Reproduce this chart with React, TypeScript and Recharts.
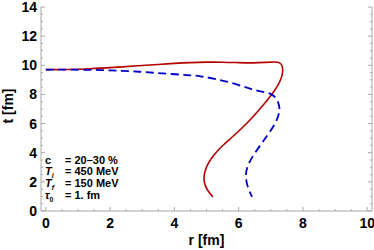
import { LineChart, Line, XAxis, YAxis } from 'recharts'

// freeze-out curves, r [fm] vs t [fm]
const redR = [0, 0.7, 1.35, 2.1, 2.9, 3.5, 4.0, 4.5, 5.0, 5.5, 6.0, 6.45, 6.85, 7.15, 7.3, 7.37, 7.38, 7.28, 7.07, 6.85, 6.63, 6.38, 6.1, 5.8, 5.5, 5.24, 5.05, 4.94, 4.91, 4.95, 5.05, 5.2]
const redT = [9.7, 9.71, 9.75, 9.85, 9.97, 10.06, 10.13, 10.19, 10.22, 10.22, 10.18, 10.15, 10.2, 10.24, 10.18, 9.95, 9.45, 8.8, 8.1, 7.5, 6.93, 6.3, 5.68, 5.07, 4.5, 3.9, 3.3, 2.7, 2.2, 1.75, 1.35, 0.97]
const blueR = [0, 0.8, 1.7, 2.4, 2.9, 3.4, 3.9, 4.4, 4.8, 5.3, 5.8, 6.35, 6.75, 7.0, 7.18, 7.26, 7.28, 7.22, 7.1, 6.9, 6.7, 6.48, 6.3, 6.22, 6.23, 6.3, 6.42]
const blueT = [9.7, 9.7, 9.68, 9.62, 9.56, 9.48, 9.4, 9.33, 9.27, 9.05, 8.8, 8.38, 8.17, 8.08, 7.75, 7.3, 6.9, 6.4, 5.85, 5.2, 4.6, 3.9, 3.25, 2.65, 2.1, 1.5, 0.97]

const rMajor = [0, 2, 4, 6, 8, 10]
const rTicks = [0, 0.5, 1, 1.5, 2, 2.5, 3, 3.5, 4, 4.5, 5, 5.5, 6, 6.5, 7, 7.5, 8, 8.5, 9, 9.5, 10]
const tMajor = [0, 2, 4, 6, 8, 10, 12, 14]
const tTicks = [0, 0.5, 1, 1.5, 2, 2.5, 3, 3.5, 4, 4.5, 5, 5.5, 6, 6.5, 7, 7.5, 8, 8.5, 9, 9.5, 10, 10.5, 11, 11.5, 12, 12.5, 13, 13.5, 14]

const redData = redR.map((r, i) => ({ r, t: redT[i] }))
const blueData = blueR.map((r, i) => ({ r, t: blueT[i] }))

const FRAME = '#a8a8a8'
const FONT = '"Liberation Sans", Arial, Helvetica, sans-serif'
const TICK_FS = 14

function BottomTick({ x, y, payload }: any) {
  const major = rMajor.includes(payload.value)
  return (
    <g>
      <line x1={x} y1={y} x2={x} y2={y - (major ? 4 : 2)} stroke={FRAME} />
      {major && (
        <text x={x} y={y + 16.5} textAnchor="middle" fontFamily={FONT} fontWeight="bold" fontSize={TICK_FS} fill="#000">
          {payload.value}
        </text>
      )}
    </g>
  )
}

function TopTick({ x, y, payload }: any) {
  const major = rMajor.includes(payload.value)
  return <line x1={x} y1={y} x2={x} y2={y + (major ? 4 : 2)} stroke={FRAME} />
}

function LeftTick({ x, y, payload }: any) {
  const major = tMajor.includes(payload.value)
  return (
    <g>
      <line x1={x} y1={y} x2={x + (major ? 4 : 2)} y2={y} stroke={FRAME} />
      {major && (
        <text x={x - 4} y={y + 5} textAnchor="end" fontFamily={FONT} fontWeight="bold" fontSize={TICK_FS} fill="#000">
          {payload.value}
        </text>
      )}
    </g>
  )
}

function RightTick({ x, y, payload }: any) {
  const major = tMajor.includes(payload.value)
  return <line x1={x} y1={y} x2={x - (major ? 4 : 2)} y2={y} stroke={FRAME} />
}

const row = { position: 'absolute' as const, left: 45, fontFamily: FONT, fontWeight: 'bold' as const, fontSize: 11, lineHeight: '11px', whiteSpace: 'nowrap' as const }
const eq = { position: 'absolute' as const, left: 20 }

export default function App() {
  return (
    <div style={{ position: 'absolute', left: 0, top: 0, width: 374, height: 250, background: '#fff' }}>
      <LineChart width={374} height={250} margin={{ top: 7, right: 0, bottom: 0, left: 0 }}>
        <XAxis
          xAxisId="b" dataKey="r" type="number" domain={[-0.15, 10.15]} ticks={rTicks} interval={0}
          height={39} stroke={FRAME} tickSize={0} tickMargin={0} tickLine={false} tick={<BottomTick />}
          allowDataOverflow
          label={{ value: 'r [fm]', position: 'insideBottom', offset: 5, fontFamily: FONT, fontWeight: 'bold', fontSize: 14, fill: '#000' }}
        />
        <XAxis
          xAxisId="top" orientation="top" dataKey="r" type="number" domain={[-0.15, 10.15]} ticks={rTicks} interval={0}
          height={0} stroke={FRAME} tickSize={0} tickMargin={0} tickLine={false} tick={<TopTick />} allowDataOverflow
        />
        <YAxis
          yAxisId="l" dataKey="t" type="number" domain={[0, 14]} ticks={tTicks} interval={0}
          width={41} stroke={FRAME} tickSize={0} tickMargin={0} tickLine={false} tick={<LeftTick />} allowDataOverflow
        />
        <YAxis
          yAxisId="rt" orientation="right" dataKey="t" type="number" domain={[0, 14]} ticks={tTicks} interval={0}
          width={2} stroke={FRAME} tickSize={0} tickMargin={0} tickLine={false} tick={<RightTick />} allowDataOverflow
        />
        <Line
          xAxisId="b" yAxisId="l" data={redData} dataKey="t" type="basis" stroke="#b40000" strokeWidth={1.6}
          dot={false} isAnimationActive={false}
        />
        <Line
          xAxisId="b" yAxisId="l" data={blueData} dataKey="t" type="basis" stroke="#0000c8" strokeWidth={1.8}
          strokeDasharray="8 4.5" dot={false} isAnimationActive={false}
        />
      </LineChart>
      <div
        style={{
          position: 'absolute', left: 7.5, top: 106, transform: 'translate(-50%, -50%) rotate(-90deg)',
          fontFamily: FONT, fontWeight: 'bold', fontSize: 14, lineHeight: '14px', whiteSpace: 'nowrap',
        }}
      >
        t [fm]
      </div>
      <div style={{ ...row, top: 155 }}>c<span style={eq}>= 20–30 %</span></div>
      <div style={{ ...row, top: 166 }}><i>T</i><sub style={{ fontSize: 7 }}><i>i</i></sub><span style={eq}>= 450 MeV</span></div>
      <div style={{ ...row, top: 178 }}><i>T</i><sub style={{ fontSize: 7 }}><i>f</i></sub><span style={eq}>= 150 MeV</span></div>
      <div style={{ ...row, top: 190 }}><i>τ</i><sub style={{ fontSize: 7 }}>0</sub><span style={eq}>= 1. fm</span></div>
    </div>
  )
}
